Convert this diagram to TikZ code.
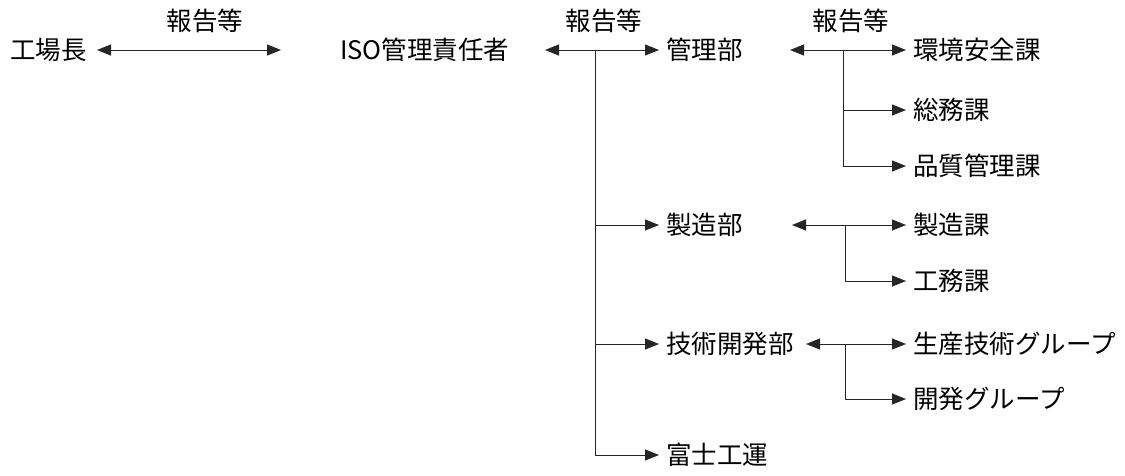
\documentclass[tikz,border=0pt]{standalone}
\usepackage{fontspec}
\newfontfamily\jp{Noto Sans CJK JP}
\usetikzlibrary{arrows.meta}
\begin{document}
\begin{tikzpicture}[x=1pt,y=-1pt,
  lbl/.style={font=\jp\fontsize{25.5}{27}\selectfont, inner sep=0pt, anchor=west},
  toplbl/.style={font=\jp\fontsize{25.5}{27}\selectfont, inner sep=0pt},
  conn/.style={line width=1pt, draw=black!85},
  tip/.style={conn, -{Triangle[length=14pt,width=11pt]}},
  dtip/.style={conn, {Triangle[length=14pt,width=11pt]}-{Triangle[length=14pt,width=11pt]}}]
\useasboundingbox[fill=white] (0,0) rectangle (1125,475);
% nodes
\node[lbl] (koujou) at (10,50) {工場長};
\node[lbl] (iso) at (340,50) {ISO管理責任者};
\node[lbl] (kanri) at (666,50) {管理部};
\node[lbl] (kankyo) at (913,50) {環境安全課};
\node[lbl] (soumu) at (913,110) {総務課};
\node[lbl] (hinshitsu) at (913,166) {品質管理課};
\node[lbl] (seizou) at (666,225) {製造部};
\node[lbl] (seizouka) at (913,225) {製造課};
\node[lbl] (koumu) at (913,281) {工務課};
\node[lbl] (gijutsu) at (666,344) {技術開発部};
\node[lbl] (seisan) at (913,344) {生産技術グループ};
\node[lbl] (kaihatsu) at (913,399) {開発グループ};
\node[lbl] (fuji) at (666,455) {富士工運};
\node[toplbl] (r1) at (205,21) {報告等};
\node[toplbl] (r2) at (604,21) {報告等};
\node[toplbl] (r3) at (851,21) {報告等};
% coordinates
\coordinate (l1) at (97,50);
\coordinate (r1e) at (281,50);
\coordinate (l2) at (545,50);
\coordinate (l3) at (790,50);
\coordinate (l4) at (792,225);
\coordinate (l5) at (806,344);
\coordinate (j2) at (595,50);
\coordinate (j3) at (843,50);
\coordinate (j4) at (845,225);
\coordinate (j5) at (845,344);
% connectors
\draw[dtip] (l1) -- (r1e);
\draw[dtip] (l2) -- ([xshift=-7pt]kanri.west);
\draw[dtip] (l3) -- ([xshift=-7pt]kankyo.west);
\draw[dtip] (l4) -- ([xshift=-7pt]seizouka.west);
\draw[dtip] (l5) -- ([xshift=-7pt]seisan.west);
% trunk from ISO
\draw[tip] (j2) |- ([xshift=-7pt]fuji.west);
\draw[tip] (j2 |- seizou.west) -- ([xshift=-7pt]seizou.west);
\draw[tip] (j2 |- gijutsu.west) -- ([xshift=-7pt]gijutsu.west);
% trunk under 管理部
\draw[tip] (j3) |- ([xshift=-7pt]hinshitsu.west);
\draw[tip] (j3 |- soumu.west) -- ([xshift=-7pt]soumu.west);
% trunk under 製造部
\draw[tip] (j4) |- ([xshift=-7pt]koumu.west);
% trunk under 技術開発部
\draw[tip] (j5) |- ([xshift=-7pt]kaihatsu.west);
\end{tikzpicture}
\end{document}
